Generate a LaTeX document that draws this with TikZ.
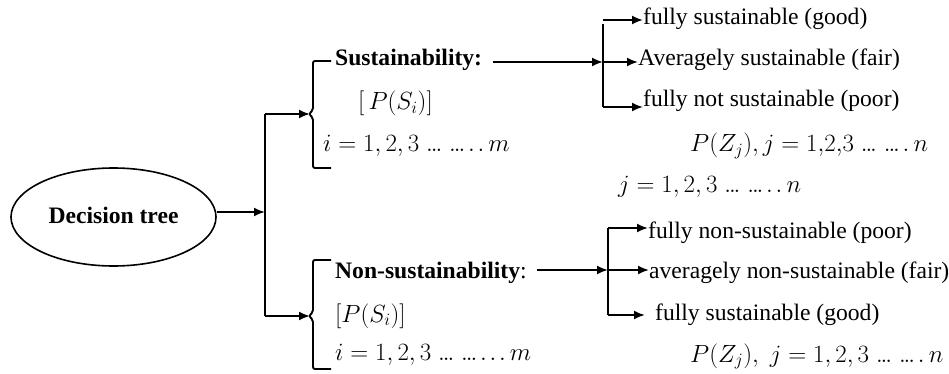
\documentclass[tikz,border=0pt]{standalone}
\usepackage{fontspec}
\setmainfont{Liberation Serif}
\newfontfamily\tms{Liberation Serif}
\usetikzlibrary{arrows.meta,shapes.geometric}
\newcommand\cdts{\mathord{.\mkern-1.5mu.\mkern-1.5mu.}}
\begin{document}
\begin{tikzpicture}[x=1pt,y=-1pt,
  ln/.style={line width=1.9pt},
  arr/.style={ln,-{Latex[length=11pt,width=9pt]}},
  txt/.style={inner sep=0pt,anchor=base west,font=\tms\fontsize{23.6}{28}\selectfont},
  mth/.style={inner sep=0pt,anchor=base west,font=\fontsize{23}{27}\selectfont},
  ell/.style={draw,line width=1.6pt,ellipse,minimum width=205pt,minimum height=98pt,inner sep=0pt,font=\tms\fontsize{23.6}{28}\selectfont\bfseries}]
\useasboundingbox (0,0) rectangle (949,374);
% root
\node[ell] (dt) at (113.5,217) {\raisebox{3pt}{Decision tree}};
\coordinate (v1m) at (265,212);
\coordinate (v1t) at (265,114);
\coordinate (v1b) at (265,316);
\coordinate (b1) at (310,114);
\coordinate (b2) at (310,316);
\draw[arr] (dt.east |- v1m) -- (v1m);
\draw[ln] (v1t) -- (v1b);
\draw[arr] (v1t) -- (b1);
\draw[arr] (v1b) -- (b2);
% brackets
\draw[ln,rounded corners=2pt] (331,61) -- (313,61) -- (313,110) -- (309,114) -- (313,118) -- (313,168) -- (331,168);
\draw[ln,rounded corners=2pt] (331,260) -- (313,260) -- (313,312) -- (309,316) -- (313,320) -- (313,369) -- (331,369);
% top left texts
\node[txt] (s1) at (335,66) {\textbf{Sustainability:}};
\node[mth] (ps1) at (358,110) {$[\,P(S_i)]$};
\node[mth] (i1) at (323,152) {$i = 1, 2, 3\;\cdts\;\cdts\mkern2mu.\mkern2mu.\,m$};
% top right
\coordinate (r1m) at (603,62);
\coordinate (r1t) at (603,20);
\coordinate (r1b) at (603,107);
\draw[arr] ([xshift=11pt]s1.east |- r1m) -- (r1m);
\draw[ln] ([yshift=-4pt]r1t) -- (r1b);
\node[txt] (g1) at (643,25) {fully sustainable (good)};
\node[txt] (f1) at (638,66) {Averagely sustainable (fair)};
\node[txt] (p1) at (643,107) {fully not sustainable (poor)};
\draw[arr] (r1t) -- (g1.west |- r1t);
\draw[arr] (r1m) -- (f1.west |- r1m);
\draw[arr] (r1b) -- (p1.west |- r1b);
\node[mth] (pz1) at (690,152) {$P\big(Z_j\big), j = 1{,}2{,}3\;\cdts\;\cdts\mkern2mu.\,n$};
\node[mth] (j0) at (618,193) {$j = 1, 2, 3\;\cdts\;\cdts\mkern2mu.\mkern2mu.\,n$};
% bottom left texts
\node[txt] (s2) at (335,278) {\textbf{Non-sustainability}:};
\node[mth] (ps2) at (335,322) {$[P(S_i)]$};
\node[mth] (i2) at (335,360) {$i = 1, 2, 3\;\cdts\;\cdts\mkern2mu.\mkern2mu.\mkern2mu.\,m$};
% bottom right
\coordinate (r2m) at (608,270);
\coordinate (r2t) at (608,228);
\coordinate (r2b) at (608,315);
\draw[arr] ([xshift=10pt]s2.east |- r2m) -- (r2m);
\draw[ln] (r2t) -- (r2b);
\node[txt] (np2) at (648,238) {fully non-sustainable (poor)};
\node[txt] (af2) at (649,278) {averagely non-sustainable (fair)};
\node[txt] (g2) at (655,320) {fully sustainable (good)};
\draw[arr] (r2t) -- (np2.west |- r2t);
\draw[arr] (r2m) -- (af2.west |- r2m);
\draw[arr] (r2b) -- ([xshift=-10pt]g2.west |- r2b);
\node[mth] (pz2) at (690,362) {$P(Z_j),\; j = 1, 2, 3\;\cdts\;\cdts\mkern2mu.\,n$};
\end{tikzpicture}
\end{document}
